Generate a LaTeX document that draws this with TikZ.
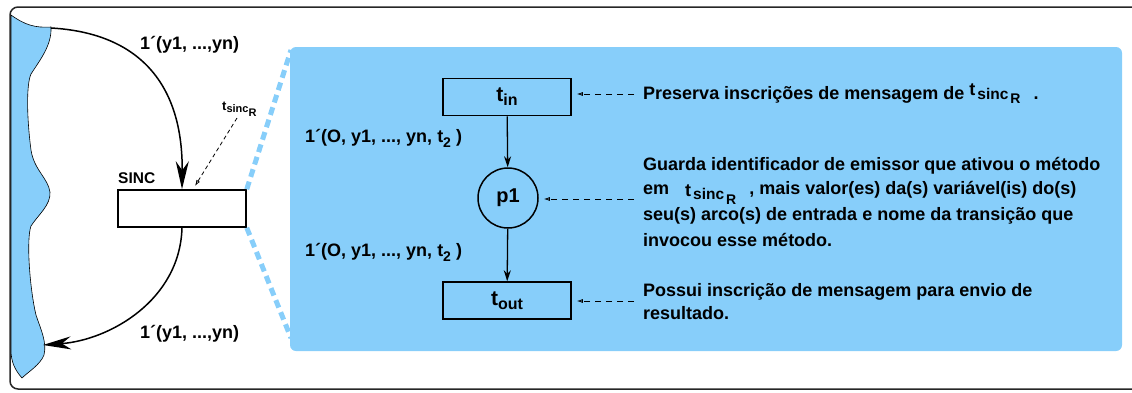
\documentclass[tikz,border=0pt]{standalone}
\usepackage{fontspec}
\setmainfont{Liberation Sans}
\usetikzlibrary{arrows.meta}
\definecolor{skyfill}{RGB}{135,206,250}

% t with the stacked subscripts "sinc" and "R"; the arguments raise t, sinc and R
\newcommand\tsub[3]{\raisebox{#1}{t}\hspace{2pt}\raisebox{#2}{\fontsize{15.5}{18}\selectfont sinc}\hspace{2pt}\raisebox{#3}{\fontsize{14}{16}\selectfont R}}

\tikzset{
  txt/.style={font=\bfseries\fontsize{18}{21}\selectfont, inner sep=0pt, anchor=base west},
  trans/.style={draw, fill=skyfill, line width=1.5pt, minimum width=128pt, minimum height=37pt, inner sep=0pt, font=\bfseries},
  place/.style={draw, circle, line width=1.5pt, minimum size=60pt, inner sep=0pt, font=\bfseries\fontsize{20}{24}\selectfont},
  arc/.style={line width=1.5pt, -{Stealth[length=28pt,width=13pt,inset=9pt]}},
  flow/.style={line width=1.3pt, -{Stealth[length=11pt,width=7pt]}},
  note/.style={line width=0.8pt, dash pattern=on 6pt off 5pt, -{Latex[open,length=6pt,width=4pt]}, shorten >=5pt},
  zoomline/.style={skyfill, line width=5pt, dash pattern=on 8pt off 5pt},
  panelbox/.style={fill=skyfill, rounded corners=6pt, minimum width=832pt, minimum height=304pt, inner sep=0pt},
}

\begin{document}
\begin{tikzpicture}[x=1pt, y=-1pt]
\useasboundingbox (0,0) rectangle (1132,392);

% place region on the left edge
\draw[fill=skyfill, line width=0.6pt]
  (11,15) .. controls (25,25) and (35,28) .. (51,27)
  .. controls (52,45) and (40,60) .. (31,74)
  .. controls (26,85) and (27,120) .. (31,150)
  .. controls (34,170) and (48,178) .. (50,192)
  .. controls (51,205) and (38,215) .. (31,226)
  .. controls (26,240) and (30,290) .. (36,315)
  .. controls (41,330) and (47,342) .. (44,355)
  .. controls (40,365) and (28,372) .. (22,378)
  .. controls (15,370) and (11,362) .. (11,350)
  -- cycle;

% outer frame, open on the right
\draw[line width=1.5pt, rounded corners=8pt, black!85] (1140,7) -- (10,7) -- (10,389) -- (1140,389);

% SINC transition
\node[draw, fill=white, line width=1.5pt, minimum width=128pt, minimum height=37pt, inner sep=0pt] (sinc) at (182,208.5) {};
\node[txt, font=\bfseries\fontsize{15.5}{18}\selectfont] (sinclbl) at (118,183) {SINC};

% zoom guides to the detail panel
\coordinate (zt) at (291,50);
\coordinate (zb) at (291,338);
\draw[zoomline] (sinc.north east) -- (zt);
\draw[zoomline] (sinc.south east) -- (zb);

% detail panel
\node[panelbox] (panel) at (706,199) {};

% arcs between the place region and SINC
\coordinate (blobtop) at (51,28);
\coordinate (blobbot) at (43,345);
\draw[arc] (blobtop) .. controls (140,33) and (183,85) .. (sinc.north);
\draw[arc] (sinc.south) .. controls (180,300) and (110,340) .. (blobbot);
\node[txt] (lbltop) at (140,49) {1´(y1, ...,yn)};
\node[txt] (lblbot) at (140,338) {1´(y1, ...,yn)};

% t_sincR pointer
\node[txt] (tsinclbl) at (222,110) {{\fontsize{13}{15}\selectfont t}\raisebox{-2pt}{\fontsize{11}{13}\selectfont sinc}\raisebox{-6pt}{\fontsize{11}{13}\selectfont R}};
\coordinate (tsinctail) at (237,118);
\coordinate (tsinctip) at (195,186);
\draw[note, dash pattern=on 4pt off 3pt, shorten >=0pt] (tsinctail) -- (tsinctip);

% detail net
\node[trans] (tin) at (507,97) {{\fontsize{21}{24}\selectfont t}\raisebox{-4pt}{\fontsize{16}{19}\selectfont in}};
\node[place] (p1) at (508,198) {p1};
\node[trans] (tout) at (507,300.5) {{\fontsize{21}{24}\selectfont t}\raisebox{-4pt}{\fontsize{16}{19}\selectfont out}};
\draw[flow] (tin) -- (p1);
\draw[flow] (p1) -- (tout);
\node[txt] (lblin) at (305,142) {1´(O, y1, ..., yn, t\raisebox{-5pt}{\fontsize{14}{16}\selectfont 2} )};
\node[txt] (lblout) at (305,256) {1´(O, y1, ..., yn, t\raisebox{-5pt}{\fontsize{14}{16}\selectfont 2} )};

% annotations
\node[txt] (d1) at (643,99) {Preserva inscrições de mensagem de \tsub{4pt}{0pt}{-4pt}\hspace{13pt}.};
\node[txt] (d2a) at (643,170) {Guarda identificador de emissor que ativou o método};
\node[txt] (d2b) at (643,194) {em\hspace{16pt}\tsub{-2pt}{-5pt}{-10pt}\hspace{13pt}, mais valor(es) da(s) variável(is) do(s)};
\node[txt] (d2c) at (643,220) {seu(s) arco(s) de entrada e nome da transição que};
\node[txt] (d2d) at (643,246) {invocou esse método.};
\node[txt] (d3a) at (643,296) {Possui inscrição de mensagem para envio de};
\node[txt] (d3b) at (643,319) {resultado.};

\coordinate (n1) at (634,94);
\coordinate (n2) at (634,199);
\coordinate (n3) at (634,301);
\draw[note] (n1) -- (n1 -| tin.east);
\draw[note] (n2) -- (n2 -| p1.east);
\draw[note] (n3) -- (n3 -| tout.east);
\end{tikzpicture}
\end{document}
